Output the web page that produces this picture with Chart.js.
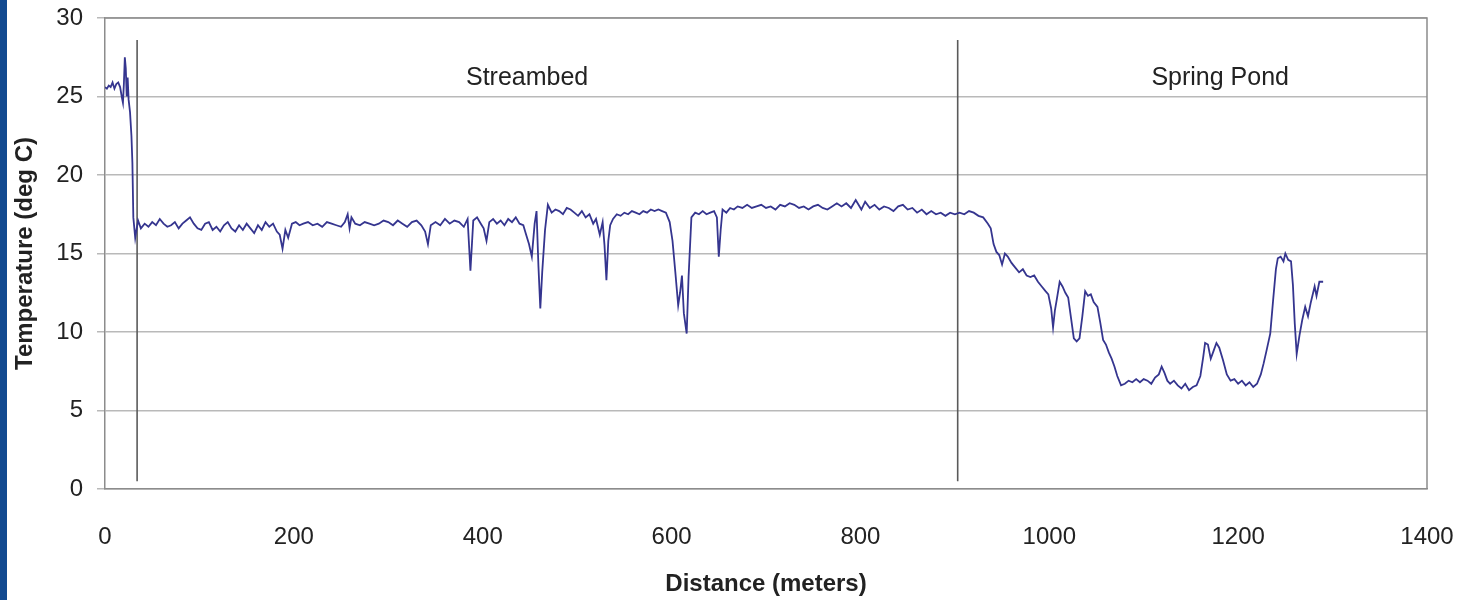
<!DOCTYPE html>
<html>
<head>
<meta charset="utf-8">
<title>Temperature vs Distance</title>
<script src="https://cdn.jsdelivr.net/npm/chart.js@4.4.1/dist/chart.umd.min.js"></script>
<style>
    html, body { margin: 0; padding: 0; background: #ffffff; }
    #wrap { position: relative; width: 1465px; height: 600px; }
    #edge { position: absolute; left: 0; top: 0; width: 7px; height: 600px; background: #124a90; }
</style>
</head>
<body>
<div id="wrap">
    <canvas id="chart" width="1465" height="600"></canvas>
    <div id="edge"></div>
</div>
<script>
// [distance (m), temperature (deg C)] readings
var inletReadings = [
    [0, 25.6], [2, 25.5], [4, 25.7], [6, 25.6], [8, 25.9], [10, 25.5], [12, 25.8], [14, 25.9],
    [16, 25.6], [18, 24.9], [19, 24.6], [20, 25.8], [21, 27.5], [22, 26.8], [23, 25.0], [24, 26.2],
    [25, 24.8], [26.5, 24.0], [28, 22.5], [29, 20.8], [30, 17.3], [32, 16.0], [33, 16.4]
];

var streambedReadings = [
    [35, 17.1], [38, 16.6], [42, 16.9], [46, 16.7], [50, 17.0], [54, 16.8], [58, 17.2], [62, 16.9],
    [66, 16.7], [70, 16.8], [74, 17.0], [78, 16.6], [82, 16.9], [86, 17.1], [90, 17.3], [94, 16.9],
    [98, 16.6], [102, 16.5], [106, 16.9], [110, 17.0], [114, 16.5], [118, 16.7], [122, 16.4], [126, 16.8],
    [130, 17.0], [134, 16.6], [138, 16.4], [142, 16.8], [146, 16.5], [150, 16.9], [154, 16.6], [158, 16.3],
    [162, 16.8], [166, 16.5], [170, 17.0], [174, 16.7], [178, 16.9], [182, 16.4], [185, 16.2], [188, 15.3],
    [191, 16.5], [194, 16.0], [198, 16.9], [202, 17.0], [206, 16.8], [210, 16.9], [215, 17.0], [220, 16.8],
    [225, 16.9], [230, 16.7], [235, 17.0], [240, 16.9], [245, 16.8], [250, 16.7], [254, 17.0], [257, 17.5],
    [259, 16.6], [261, 17.3], [265, 16.9], [270, 16.8], [275, 17.0], [280, 16.9], [285, 16.8], [290, 16.9],
    [295, 17.1], [300, 17.0], [305, 16.8], [310, 17.1], [315, 16.9], [320, 16.7], [325, 17.0], [330, 17.1],
    [335, 16.8], [339, 16.4], [342, 15.6], [345, 16.8], [350, 17.0], [355, 16.8], [360, 17.2], [365, 16.9],
    [370, 17.1], [375, 17.0], [380, 16.7], [384, 17.2], [387, 13.9], [390, 17.1], [394, 17.3], [398, 16.9],
    [401, 16.6], [404, 15.8], [407, 17.0], [411, 17.2], [415, 16.9], [419, 17.1], [423, 16.8], [427, 17.2],
    [431, 17.0], [435, 17.3], [439, 16.9], [443, 16.8], [446, 16.2], [449, 15.6], [452, 14.8], [455, 16.9],
    [457, 17.7], [459, 14.2], [461, 11.5], [463, 13.8], [466, 16.5], [469, 18.1], [473, 17.6], [477, 17.8],
    [481, 17.7], [485, 17.5], [489, 17.9], [493, 17.8], [497, 17.6], [501, 17.4], [505, 17.7], [509, 17.3],
    [513, 17.5], [517, 16.9], [520, 17.2], [524, 16.2], [527, 17.0], [529, 15.5], [531, 13.3], [533, 15.8],
    [535, 16.8], [538, 17.2], [542, 17.5], [546, 17.4], [550, 17.6], [554, 17.5], [558, 17.7], [562, 17.6],
    [566, 17.5], [570, 17.7], [574, 17.6], [578, 17.8], [582, 17.7], [586, 17.8], [590, 17.7], [594, 17.6],
    [598, 17.0], [601, 15.8], [604, 13.8], [607, 11.7], [609, 12.5], [611, 13.6], [613, 11.2], [616, 9.9],
    [618, 13.5], [621, 17.3], [625, 17.6], [629, 17.5], [633, 17.7], [637, 17.5], [641, 17.6], [645, 17.7],
    [648, 17.3], [650, 14.8], [652, 16.5], [654, 17.8], [658, 17.6], [662, 17.9], [666, 17.8], [670, 18.0],
    [675, 17.9], [680, 18.1], [685, 17.9], [690, 18.0], [695, 18.1], [700, 17.9], [705, 18.0], [710, 17.8],
    [715, 18.1], [720, 18.0], [725, 18.2], [730, 18.1], [735, 17.9], [740, 18.0], [745, 17.8], [750, 18.0],
    [755, 18.1], [760, 17.9], [765, 17.8], [770, 18.0], [775, 18.2], [780, 18.0], [785, 18.2], [790, 17.9],
    [795, 18.4], [798, 18.1], [801, 17.8], [805, 18.3], [810, 17.9], [815, 18.1], [820, 17.8], [825, 18.0],
    [830, 17.9], [835, 17.7], [840, 18.0], [845, 18.1], [850, 17.8], [855, 17.9], [860, 17.6], [865, 17.8],
    [870, 17.5], [875, 17.7], [880, 17.5], [885, 17.6], [890, 17.4], [895, 17.6], [900, 17.5]
];

var pondReadings = [
    [905, 17.6], [910, 17.5], [915, 17.7], [920, 17.6], [925, 17.4], [930, 17.3], [935, 16.9], [938, 16.6],
    [941, 15.6], [944, 15.1], [947, 14.9], [950, 14.3], [953, 15.0], [956, 14.8], [960, 14.4], [964, 14.1],
    [968, 13.8], [972, 14.0], [976, 13.6], [980, 13.5], [984, 13.6], [988, 13.2], [992, 12.9], [996, 12.6],
    [999, 12.4], [1002, 11.5], [1004, 10.3], [1006, 11.4], [1008, 12.1], [1011, 13.2], [1014, 12.9], [1017, 12.5],
    [1020, 12.2], [1023, 10.9], [1026, 9.6], [1029, 9.4], [1032, 9.6], [1035, 11.0], [1038, 12.6], [1041, 12.3],
    [1044, 12.4], [1047, 11.9], [1051, 11.6], [1054, 10.6], [1057, 9.5], [1060, 9.2], [1063, 8.7], [1066, 8.3],
    [1069, 7.8], [1072, 7.2], [1076, 6.6], [1080, 6.7], [1084, 6.9], [1088, 6.8], [1092, 7.0], [1096, 6.8],
    [1100, 7.0], [1104, 6.9], [1108, 6.7], [1112, 7.1], [1116, 7.3], [1119, 7.8], [1122, 7.4], [1125, 6.9],
    [1128, 6.7], [1132, 6.9], [1136, 6.6], [1140, 6.4], [1144, 6.7], [1148, 6.3], [1152, 6.5], [1156, 6.6],
    [1160, 7.2], [1163, 8.4], [1165, 9.3], [1168, 9.2], [1171, 8.3], [1174, 8.8], [1177, 9.3], [1180, 9.0],
    [1184, 8.2], [1188, 7.3], [1192, 6.9], [1196, 7.0], [1200, 6.7], [1204, 6.9], [1208, 6.6], [1212, 6.8],
    [1216, 6.5], [1220, 6.7], [1224, 7.3], [1227, 8.0], [1230, 8.8], [1234, 9.9], [1237, 12.0], [1240, 14.0],
    [1242, 14.7], [1245, 14.8], [1248, 14.5], [1250, 15.0], [1253, 14.6], [1256, 14.5], [1258, 13.0], [1260, 10.5],
    [1262, 8.6], [1265, 9.8], [1268, 10.8], [1271, 11.6], [1274, 11.0], [1277, 11.9], [1281, 12.9], [1283, 12.3],
    [1286, 13.2], [1290, 13.2]
];

// section boundaries and their labels
var dividerDistances = [34, 903];
var dividerRange = [0.5, 28.6];
var sectionLabels = ["Streambed", "Spring Pond"];
var sectionLabelX = [447, 1181];
var sectionLabelY = 26.2;

var xTicks = [0, 200, 400, 600, 800, 1000, 1200, 1400];
var yTicks = [0, 5, 10, 15, 20, 25, 30];

var gridGray = "#b9b9b9";
var borderGray = "#8c8c8c";
var textColor = "#222222";
var fontFamily = "'Liberation Sans', Arial, sans-serif";

function toPoints(rows) {
    return rows.map(function (r) { return {x: r[0], y: r[1]}; });
}

var tempPoints = toPoints(inletReadings.concat(streambedReadings, pondReadings));

var datasets = [{
    data: tempPoints,
    borderColor: "#35358f",
    borderWidth: 1.8,
    pointRadius: 0,
    tension: 0,
    fill: false
}];

dividerDistances.forEach(function (d) {
    datasets.push({
        data: [{x: d, y: dividerRange[0]}, {x: d, y: dividerRange[1]}],
        borderColor: "#5a5a5a",
        borderWidth: 1.6,
        pointRadius: 0,
        fill: false
    });
});

// frame round the plot area plus the section captions
var framePlugin = {
    id: "frame",
    afterDatasetsDraw: function (chart) {
        var ctx = chart.ctx, a = chart.chartArea;
        var xs = chart.scales.x, ys = chart.scales.y;
        ctx.save();
        ctx.strokeStyle = borderGray;
        ctx.lineWidth = 1.5;
        ctx.beginPath();
        ctx.moveTo(a.left, a.top);
        ctx.lineTo(a.right, a.top);
        ctx.lineTo(a.right, a.bottom);
        ctx.stroke();
        ctx.fillStyle = textColor;
        ctx.font = "25px " + fontFamily;
        ctx.textAlign = "center";
        ctx.textBaseline = "middle";
        sectionLabels.forEach(function (t, i) {
            ctx.fillText(t, xs.getPixelForValue(sectionLabelX[i]), ys.getPixelForValue(sectionLabelY));
        });
        ctx.restore();
    }
};

window.onload = function () {
    new Chart("chart", {
        type: "line",
        data: {datasets: datasets},
        plugins: [framePlugin],
        options: {
            responsive: false,
            animation: false,
            layout: {padding: {top: 18, right: 38, left: 0, bottom: 0}},
            plugins: {legend: {display: false}, tooltip: {enabled: false}},
            scales: {
                x: {
                    type: "linear",
                    min: 0,
                    max: 1400,
                    afterBuildTicks: function (s) { s.ticks = xTicks.map(function (v) { return {value: v}; }); },
                    afterFit: function (s) { s.height = 111; },
                    // invisible tick marks keep the labels clear of the axis
                    grid: {display: true, drawOnChartArea: false, drawTicks: true, tickLength: 34, tickColor: "rgba(0,0,0,0)"},
                    border: {display: true, color: borderGray, width: 1.5},
                    ticks: {
                        color: textColor,
                        font: {family: fontFamily, size: 24},
                        padding: 0,
                        maxRotation: 0,
                        callback: function (v) { return String(v); }
                    },
                    title: {
                        display: true,
                        text: "Distance (meters)",
                        color: textColor,
                        font: {family: fontFamily, size: 24, weight: "bold"},
                        padding: {top: 0, bottom: 1}
                    }
                },
                y: {
                    min: 0,
                    max: 30,
                    afterBuildTicks: function (s) { s.ticks = yTicks.map(function (v) { return {value: v}; }); },
                    afterFit: function (s) { s.width = 105; },
                    grid: {color: gridGray, lineWidth: 1.5, tickLength: 8, tickColor: gridGray},
                    border: {display: true, color: borderGray, width: 1.5},
                    ticks: {color: textColor, font: {family: fontFamily, size: 24, lineHeight: 0.3}, padding: 14},
                    title: {
                        display: true,
                        text: "Temperature (deg C)",
                        color: textColor,
                        font: {family: fontFamily, size: 24, weight: "bold"},
                        padding: {top: 11, bottom: 0}
                    }
                }
            }
        }
    });
};
</script>
</body>
</html>
